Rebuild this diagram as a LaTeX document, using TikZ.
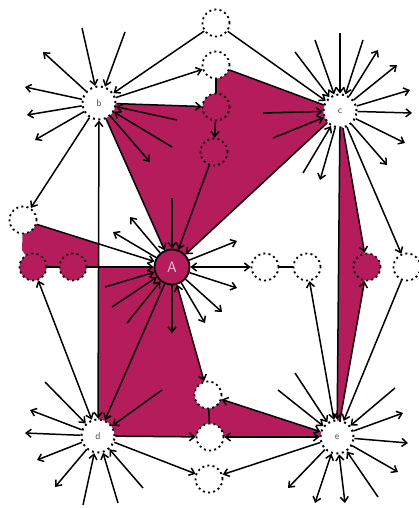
\documentclass[tikz,border=0pt]{standalone}
\usetikzlibrary{arrows.meta,calc}
\definecolor{mag}{RGB}{181,28,91}
\definecolor{apink}{RGB}{245,200,218}
\pgfdeclarelayer{bg}
\pgfsetlayers{bg,main}
\begin{document}
\begin{tikzpicture}[x=1pt,y=-1pt,
  tip/.tip={Straight Barb[length=5pt,width=8pt]},
  arr/.style={line width=1.5pt,-tip},
  darr/.style={line width=1.5pt,tip-tip},
  plainline/.style={line width=1.5pt},
  hub/.style={circle,minimum size=33pt,inner sep=0pt,fill=white,draw=black,line width=2pt,dash pattern=on 2pt off 3.5pt,font=\fontsize{10}{11}\sffamily,text=black!70},
  sm/.style={circle,minimum size=27pt,inner sep=0pt,fill=white,draw=black,line width=1.8pt,dash pattern=on 2pt off 3.2pt},
  smf/.style={sm,fill=mag},
  bigA/.style={circle,minimum size=35pt,inner sep=0pt,fill=mag,draw=black,line width=1.8pt,font=\fontsize{15}{15}\sffamily,text=apink}]
\useasboundingbox (0,0) rectangle (418,508);
% main nodes
\node[hub] (b) at (99,103) {b};
\node[hub] (c) at (340,111) {c};
\node[bigA] (A) at (172,267) {A};
\node[hub] (d) at (98,436) {d};
\node[hub] (e) at (337,437) {e};
% small nodes
\node[sm] (t1) at (216,23) {};
\node[sm] (t2) at (216,65) {};
\node[smf] (t3) at (216,107) {};
\node[smf] (t4) at (214,152) {};
\node[sm] (l1) at (23,220) {};
\node[smf] (l2) at (33,267) {};
\node[smf] (l3) at (73,267) {};
\node[sm] (r1) at (265,267) {};
\node[sm] (r2) at (307,267) {};
\node[smf] (r3) at (367,267) {};
\node[sm] (r4) at (407,267) {};
\node[sm] (m1) at (208,395) {};
\node[sm] (m2) at (210,437) {};
\node[sm] (m3) at (209,479) {};
% filled faces
\begin{pgfonlayer}{bg}
\fill[mag] (b.center) -- (t3.center) -- (t2.center) -- (c.center) -- (A.center) -- cycle;
\fill[mag] (l1.center) -- (98,244) -- (98,267) -- (l2.center) -- (22,250) -- cycle;
\fill[mag] (98,267) -- (A.center) -- (m1.center) -- (e.center) -- (d.center) -- cycle;
\fill[mag] (c.center) -- (r3.center) -- (e.center) -- cycle;
\end{pgfonlayer}
% free ends
\coordinate (bi1) at (82,28); \coordinate (bi2) at (125,32);
\coordinate (bi3) at (177,120); \coordinate (bi4) at (172,147);
\coordinate (bo1) at (43,52); \coordinate (bo2) at (25,87);
\coordinate (bo3) at (27,115); \coordinate (bo4) at (35,140);
\coordinate (bo5) at (150,162);
\coordinate (ci1) at (295,52); \coordinate (ci2) at (315,40);
\coordinate (ci3) at (340,33); \coordinate (ci4) at (363,40);
\coordinate (ci5) at (263,113); \coordinate (ci6) at (273,138);
\coordinate (ci7) at (303,173);
\coordinate (co1) at (378,50); \coordinate (co2) at (397,65);
\coordinate (co3) at (410,90); \coordinate (co4) at (412,113);
\coordinate (co5) at (405,143); \coordinate (co6) at (387,165);
\coordinate (co7) at (320,180);
\coordinate (ai1) at (172,198); \coordinate (ai2) at (105,287);
\coordinate (ai3) at (112,307); \coordinate (ai4) at (127,323);
\coordinate (ao1) at (237,241); \coordinate (ao2) at (237,288);
\coordinate (ao3) at (222,312); \coordinate (ao4) at (205,323);
\coordinate (ao5) at (172,333); \coordinate (ao6) at (130,217);
\coordinate (ao7) at (113,232);
\coordinate (di1) at (45,382); \coordinate (di2) at (83,505);
\coordinate (di3) at (118,503); \coordinate (di4) at (143,488);
\coordinate (di5) at (162,390);
\coordinate (do1) at (30,410); \coordinate (do2) at (25,433);
\coordinate (do3) at (37,460); \coordinate (do4) at (55,487);
\coordinate (ei1) at (295,373); \coordinate (ei2) at (278,390);
\coordinate (ei3) at (395,388); \coordinate (ei4) at (378,497);
\coordinate (eo1) at (403,413); \coordinate (eo2) at (408,443);
\coordinate (eo3) at (398,472); \coordinate (eo4) at (288,488);
\coordinate (eb1) at (315,503); \coordinate (eb2) at (345,503);
% radiating arrows
\foreach \p in {bi1,bi2,bi3,bi4} \draw[arr] (\p) -- (b);
\foreach \p in {bo1,bo2,bo3,bo4,bo5} \draw[arr] (b) -- (\p);
\foreach \p in {ci1,ci2,ci3,ci4,ci5,ci6,ci7} \draw[arr] (\p) -- (c);
\foreach \p in {co1,co2,co3,co4,co5,co6,co7} \draw[arr] (c) -- (\p);
\foreach \p in {ai1,ai2,ai3,ai4} \draw[arr] (\p) -- (A);
\foreach \p in {ao1,ao2,ao3,ao4,ao5,ao6,ao7} \draw[arr] (A) -- (\p);
\foreach \p in {di1,di2,di3,di4,di5} \draw[arr] (\p) -- (d);
\foreach \p in {do1,do2,do3,do4} \draw[arr] (d) -- (\p);
\foreach \p in {ei1,ei2,ei3,ei4} \draw[arr] (\p) -- (e);
\foreach \p in {eo1,eo2,eo3,eo4} \draw[arr] (e) -- (\p);
\foreach \p in {eb1,eb2} \draw[darr] (e) -- (\p);
% node-to-node connectors
\draw[arr] (t1) -- (b);
\draw[arr] (t1) -- (c);
\draw[arr] (b) -- (t2);
\draw[arr] (b) -- (t3);
\draw[plainline] (t2) -- (t3);
\draw[plainline] (t2) -- (c);
\draw[arr] (t3) -- (t4);
\draw[arr] (t4) -- (A);
\draw[arr] (b) -- (A);
\draw[arr] (c) -- (A);
\draw[arr] (b) -- (l1);
\draw[darr] (b) -- (d);
\draw[arr] (l1) -- (A);
\draw[plainline] (l2) -- (l3);
\draw[arr] (l3) -- (A);
\draw[darr] (d) -- (l2);
\draw[darr] (A) -- (r1);
\draw[plainline] (r1) -- (r2);
\draw[darr] (A) -- (m1);
\draw[arr] (A) -- (d);
\draw[arr] (c) -- (r3);
\draw[arr] (c) -- (r4);
\draw[arr] (c) -- (e);
\draw[darr] (e) -- (r2);
\draw[arr] (e) -- (r3);
\draw[arr] (r4) -- (e);
\draw[plainline] (m1) -- (m2);
\draw[arr] (d) -- (m2);
\draw[arr] (d) -- (m3);
\draw[arr] (e) -- (m3);
\draw[darr] (e) -- (m2);
\draw[darr] (e) -- (m1);
\end{tikzpicture}
\end{document}
